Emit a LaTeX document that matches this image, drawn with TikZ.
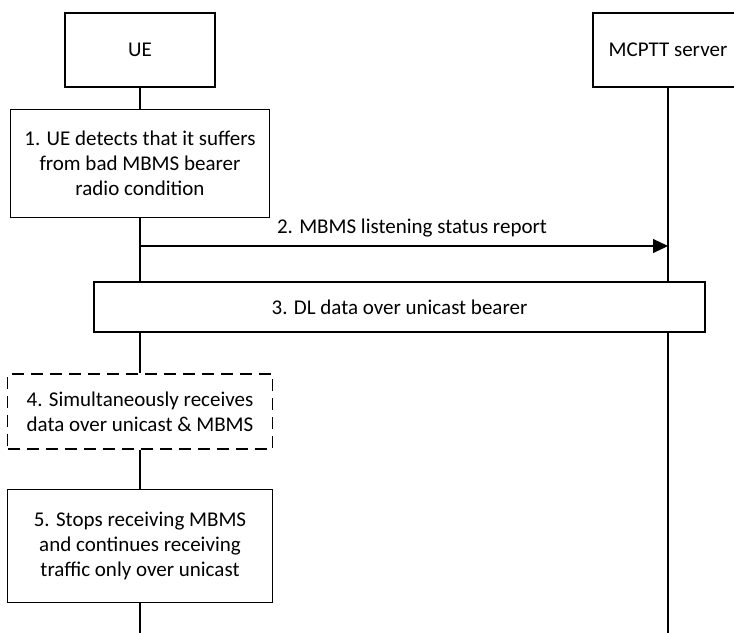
\documentclass[tikz,border=0pt]{standalone}
\usepackage{fontspec}
\setmainfont{Carlito}
\usetikzlibrary{arrows.meta}
\usetikzlibrary{positioning}
\tikzset{
  bloco/.style={draw, line width=1.1pt, fill=white, align=center, inner sep=4pt, font=\fontsize{21}{25}\selectfont, minimum width=#1},
  bloco/.default=150pt,
  vida/.style={line width=1.1pt},
  msg/.style={-{Triangle[length=15pt, width=14pt]}, line width=1.1pt},
}

\begin{document}
\begin{tikzpicture}[x=1pt, y=1pt, node distance=21pt]
  \path[use as bounding box, clip] (0,0) rectangle (734,-633);
  \node[bloco, minimum height=74pt] (ue) at (140,-50) {UE};
  \node[bloco, minimum height=74pt] (mcptt) at (668,-50) {MCPTT server};
  \node[bloco=259pt, minimum height=108pt, below=21pt of ue] (s1) {1. UE detects that it suffers\\from bad MBMS bearer\\radio condition};
  \node[bloco=611pt, minimum height=50pt] (s3) at (399.5,-307) {3. DL data over unicast bearer};
  \node[bloco=265pt, minimum height=75pt, dash pattern=on 12pt off 7pt] (s4) at (140,-411.5) {4. Simultaneously receives\\data over unicast \& MBMS};
  \node[bloco=265pt, minimum height=113pt, below=39pt of s4] (s5) {5. Stops receiving MBMS\\and continues receiving\\traffic only over unicast};
  \coordinate (m2) at (140,-246);
  \coordinate (fimue) at (140,-633);
  \coordinate (fimsrv) at (668,-633);
  % linhas de vida
  \draw[vida] (ue) -- (s1);
  \draw[vida] (s1.south) -- (s1.south |- s3.north);
  \draw[vida] (s3.south -| s4) -- (s4);
  \draw[vida] (s4) -- (s5);
  \draw[vida] (s5) -- (fimue);
  \draw[vida] (mcptt) -- (mcptt |- s3.north);
  \draw[vida] (s3.south -| mcptt) -- (fimsrv);
  % mensagem
  \draw[msg] (m2) -- node[above=5pt, xshift=8pt, font=\fontsize{21}{25}\selectfont, inner sep=3pt] {2. MBMS listening status report} (m2 -| mcptt);
\end{tikzpicture}
\end{document}
